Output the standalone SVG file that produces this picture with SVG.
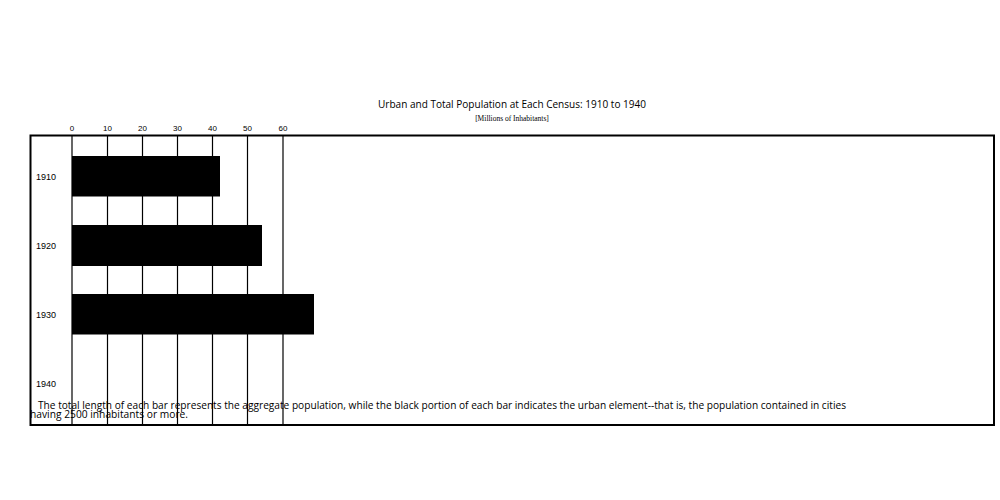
<svg xmlns="http://www.w3.org/2000/svg" width="1000" height="500" viewBox="0 0 1000 500">
<style>
.t{font-family:"Open Sans","DejaVu Sans",sans-serif;fill:#000}
.s{font-family:"Liberation Serif",serif;fill:#000}
.a{font-family:"Liberation Sans",Arial,sans-serif;font-size:8px;text-anchor:middle;fill:#000}
.y{font-family:"Liberation Sans",Arial,sans-serif;font-size:9px;fill:#000}
.g{stroke:#000;stroke-width:1.2}
</style>
<rect width="1000" height="500" fill="#fff"/>
<g id="title">
<text class="t" x="512" y="108" font-size="10.5" text-anchor="middle" textLength="268" lengthAdjust="spacingAndGlyphs">Urban and Total Population at Each Census: 1910 to 1940</text>
<text class="s" x="512" y="121" font-size="7.5" text-anchor="middle">[Millions of Inhabitants]</text>
</g>
<g id="axis">
<text class="a" x="72" y="131">0</text>
<text class="a" x="107.5" y="131">10</text>
<text class="a" x="142.5" y="131">20</text>
<text class="a" x="177.5" y="131">30</text>
<text class="a" x="212.5" y="131">40</text>
<text class="a" x="247.5" y="131">50</text>
<text class="a" x="283" y="131">60</text>
</g>
<g id="grid">
<line class="g" x1="72" y1="135" x2="72" y2="425"/>
<line class="g" x1="107.5" y1="135" x2="107.5" y2="425"/>
<line class="g" x1="142.5" y1="135" x2="142.5" y2="425"/>
<line class="g" x1="177.5" y1="135" x2="177.5" y2="425"/>
<line class="g" x1="212.5" y1="135" x2="212.5" y2="425"/>
<line class="g" x1="247.5" y1="135" x2="247.5" y2="425"/>
<line class="g" x1="283" y1="135" x2="283" y2="425"/>
</g>
<g id="bar-1910"><rect x="72" y="156" width="148" height="40.5" fill="#000"/><text class="y" x="36" y="180">1910</text></g>
<g id="bar-1920"><rect x="72" y="225" width="190" height="41" fill="#000"/><text class="y" x="36" y="249">1920</text></g>
<g id="bar-1930"><rect x="72" y="294" width="242" height="40.5" fill="#000"/><text class="y" x="36" y="318">1930</text></g>
<g id="bar-1940"><text class="y" x="36" y="387">1940</text></g>
<g id="note">
<text class="t" x="38" y="408.5" font-size="10" textLength="808" lengthAdjust="spacingAndGlyphs">The total length of each bar represents the aggregate population, while the black portion of each bar indicates the urban element--that is, the population contained in cities</text>
<text class="t" x="30" y="417.5" font-size="10" textLength="158" lengthAdjust="spacingAndGlyphs">having 2500 inhabitants or more.</text>
</g>
<rect id="frame" x="30.5" y="135.5" width="963.5" height="289.5" fill="none" stroke="#000" stroke-width="2"/>
</svg>
